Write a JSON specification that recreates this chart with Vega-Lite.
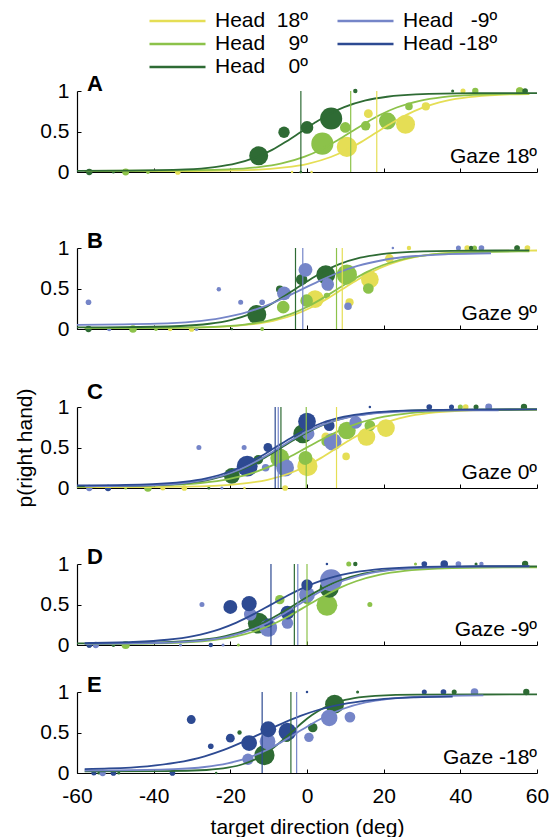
{
"$schema":"https://vega.github.io/schema/vega-lite/v6.json",
"padding":{"left":14,"top":10,"right":4,"bottom":0},
"background":"white",
"config":{"font":"Liberation Sans","view":{"stroke":null},
"title":{"fontSize":22,"fontWeight":"bold","color":"#000","anchor":"start","frame":"group","baseline":"alphabetic","offset":0,"dx":10,"dy":20},
"axis":{"grid":false,"domain":true,"ticks":true,"domainColor":"#000","tickColor":"#000","labelColor":"#000","titleColor":"#000","labelFontSize":21,"titleFontSize":21,"titleFontWeight":"normal","tickSize":-4,"labelFlush":false,"domainWidth":1,"tickWidth":1},
"axisX":{"labelPadding":16,"titlePadding":10},
"axisY":{"labelPadding":12,"titlePadding":4,"domain":true,"domainColor":"#000","domainWidth":1.2,"domainOpacity":1,"zindex":1}},
"datasets":{
"panels":[{"panel":"A","gaze":"Gaze 18º"},{"panel":"B","gaze":"Gaze 9º"},{"panel":"C","gaze":"Gaze 0º"},{"panel":"D","gaze":"Gaze -9º"},{"panel":"E","gaze":"Gaze -18º"}],
"thr":[{"panel":"A","head":18,"x":18.2},{"panel":"A","head":9,"x":11.4},{"panel":"A","head":0,"x":-1.6},
{"panel":"B","head":18,"x":9.2},{"panel":"B","head":9,"x":7.7},{"panel":"B","head":0,"x":-3.0},{"panel":"B","head":-9,"x":-1.1},
{"panel":"C","head":18,"x":7.7},{"panel":"C","head":9,"x":-0.2},{"panel":"C","head":0,"x":-6.8},{"panel":"C","head":-9,"x":-7.5},{"panel":"C","head":-18,"x":-8.3},
{"panel":"D","head":9,"x":0},{"panel":"D","head":0,"x":-3.3},{"panel":"D","head":-9,"x":-2.4},{"panel":"D","head":-18,"x":-9.4},
{"panel":"E","head":0,"x":-4.2},{"panel":"E","head":-9,"x":-2.7},{"panel":"E","head":-18,"x":-11.7}],
"pts":[
{"panel":"A","head":18,"x":-33.7,"p":0,"n":20},{"panel":"A","head":18,"x":-3.9,"p":0,"n":4},{"panel":"A","head":18,"x":1.2,"p":0,"n":4},{"panel":"A","head":18,"x":10.4,"p":0.31,"n":256},{"panel":"A","head":18,"x":16,"p":0.72,"n":49},{"panel":"A","head":18,"x":25.7,"p":0.59,"n":225},{"panel":"A","head":18,"x":31,"p":0.81,"n":42},{"panel":"A","head":18,"x":40.7,"p":1,"n":16},{"panel":"A","head":18,"x":55.5,"p":1,"n":36},
{"panel":"A","head":9,"x":-47.3,"p":0,"n":30},{"panel":"A","head":9,"x":-41.5,"p":0,"n":9},{"panel":"A","head":9,"x":-1.6,"p":0,"n":4},{"panel":"A","head":9,"x":4,"p":0.35,"n":306},{"panel":"A","head":9,"x":10,"p":0.55,"n":72},{"panel":"A","head":9,"x":15.3,"p":0.57,"n":56},{"panel":"A","head":9,"x":21,"p":0.63,"n":182},{"panel":"A","head":9,"x":26.6,"p":0.81,"n":36},{"panel":"A","head":9,"x":43.9,"p":1,"n":25},{"panel":"A","head":9,"x":55.5,"p":1,"n":36},
{"panel":"A","head":0,"x":-56.8,"p":0,"n":25},{"panel":"A","head":0,"x":-50.5,"p":0,"n":6},{"panel":"A","head":0,"x":-12.6,"p":0.2,"n":225},{"panel":"A","head":0,"x":-6,"p":0.49,"n":81},{"panel":"A","head":0,"x":-1.6,"p":0,"n":4},{"panel":"A","head":0,"x":0,"p":0.55,"n":100},{"panel":"A","head":0,"x":6.3,"p":0.66,"n":306},{"panel":"A","head":0,"x":12.6,"p":1,"n":12},{"panel":"A","head":0,"x":38,"p":1,"n":6},{"panel":"A","head":0,"x":56.9,"p":1,"n":20},
{"panel":"B","head":18,"x":-35.7,"p":0,"n":12},{"panel":"B","head":18,"x":-30.1,"p":0,"n":20},{"panel":"B","head":18,"x":2.1,"p":0.37,"n":196},{"panel":"B","head":18,"x":5.8,"p":0.5,"n":16},{"panel":"B","head":18,"x":11.1,"p":0.33,"n":42},{"panel":"B","head":18,"x":16.4,"p":0.61,"n":196},{"panel":"B","head":18,"x":21.5,"p":0.87,"n":49},{"panel":"B","head":18,"x":26.6,"p":1,"n":12},{"panel":"B","head":18,"x":41.8,"p":1,"n":20},{"panel":"B","head":18,"x":57.5,"p":1,"n":20},
{"panel":"B","head":9,"x":-45.4,"p":0,"n":36},{"panel":"B","head":9,"x":-39.4,"p":0,"n":9},{"panel":"B","head":9,"x":-11.7,"p":0,"n":9},{"panel":"B","head":9,"x":-6.2,"p":0.27,"n":100},{"panel":"B","head":9,"x":-0.1,"p":0.35,"n":100},{"panel":"B","head":9,"x":5.2,"p":0.41,"n":25},{"panel":"B","head":9,"x":10.4,"p":0.67,"n":256},{"panel":"B","head":9,"x":16,"p":0.5,"n":72},{"panel":"B","head":9,"x":43.7,"p":1,"n":16},{"panel":"B","head":9,"x":54.8,"p":1,"n":16},
{"panel":"B","head":0,"x":-57,"p":0,"n":25},{"panel":"B","head":0,"x":-19.6,"p":0,"n":4},{"panel":"B","head":0,"x":-13.1,"p":0.18,"n":225},{"panel":"B","head":0,"x":-7.1,"p":0.49,"n":36},{"panel":"B","head":0,"x":-1.4,"p":0.61,"n":81},{"panel":"B","head":0,"x":4.9,"p":0.67,"n":225},{"panel":"B","head":0,"x":42.8,"p":1,"n":12},{"panel":"B","head":0,"x":54.8,"p":1,"n":20},
{"panel":"B","head":-9,"x":-57,"p":0.33,"n":20},{"panel":"B","head":-9,"x":-51.6,"p":0,"n":12},{"panel":"B","head":-9,"x":-28.8,"p":0,"n":9},{"panel":"B","head":-9,"x":-23,"p":0.49,"n":12},{"panel":"B","head":-9,"x":-17.3,"p":0.33,"n":16},{"panel":"B","head":-9,"x":-11.7,"p":0.33,"n":20},{"panel":"B","head":-9,"x":-6,"p":0.44,"n":121},{"panel":"B","head":-9,"x":-0.4,"p":0.73,"n":121},{"panel":"B","head":-9,"x":5.4,"p":0.55,"n":100},{"panel":"B","head":-9,"x":10.7,"p":0.28,"n":36},{"panel":"B","head":-9,"x":22.4,"p":1,"n":4},{"panel":"B","head":-9,"x":39.5,"p":1,"n":16},{"panel":"B","head":-9,"x":45.5,"p":1,"n":20},
{"panel":"C","head":18,"x":-37.6,"p":0,"n":16},{"panel":"C","head":18,"x":-32,"p":0,"n":20},{"panel":"C","head":18,"x":-16.3,"p":0,"n":4},{"panel":"C","head":18,"x":-5.7,"p":0,"n":20},{"panel":"C","head":18,"x":0.1,"p":0.27,"n":256},{"panel":"C","head":18,"x":4.9,"p":0.63,"n":49},{"panel":"C","head":18,"x":10.2,"p":0.39,"n":36},{"panel":"C","head":18,"x":15.5,"p":0.63,"n":196},{"panel":"C","head":18,"x":20.6,"p":0.74,"n":196},{"panel":"C","head":18,"x":41.4,"p":1,"n":20},
{"panel":"C","head":9,"x":-47.3,"p":0,"n":6},{"panel":"C","head":9,"x":-41.5,"p":0,"n":36},{"panel":"C","head":9,"x":-7.1,"p":0.37,"n":225},{"panel":"C","head":9,"x":-0.4,"p":0.37,"n":121},{"panel":"C","head":9,"x":4.9,"p":0.57,"n":49},{"panel":"C","head":9,"x":10.4,"p":0.71,"n":196},{"panel":"C","head":9,"x":16.4,"p":0.77,"n":72},{"panel":"C","head":9,"x":40,"p":1,"n":16},{"panel":"C","head":9,"x":56.6,"p":1,"n":16},
{"panel":"C","head":0,"x":-56.8,"p":0,"n":16},{"panel":"C","head":0,"x":-25.6,"p":0,"n":6},{"panel":"C","head":0,"x":-19.6,"p":0.15,"n":156},{"panel":"C","head":0,"x":-12.7,"p":0.35,"n":56},{"panel":"C","head":0,"x":-1.1,"p":0.67,"n":225},{"panel":"C","head":0,"x":44.1,"p":1,"n":16},{"panel":"C","head":0,"x":56.6,"p":1,"n":25},
{"panel":"C","head":-9,"x":-56.8,"p":0,"n":25},{"panel":"C","head":-9,"x":-28.2,"p":0.5,"n":16},{"panel":"C","head":-9,"x":-22.2,"p":0,"n":6},{"panel":"C","head":-9,"x":-16.4,"p":0.5,"n":16},{"panel":"C","head":-9,"x":-10.8,"p":0.25,"n":36},{"panel":"C","head":-9,"x":-5.7,"p":0.25,"n":196},{"panel":"C","head":-9,"x":0.3,"p":0.67,"n":100},{"panel":"C","head":-9,"x":6.7,"p":0.57,"n":196},{"panel":"C","head":-9,"x":12.7,"p":0.81,"n":100},{"panel":"C","head":-9,"x":47.4,"p":1,"n":30},
{"panel":"C","head":-18,"x":-51.9,"p":0,"n":25},{"panel":"C","head":-18,"x":-15.6,"p":0.27,"n":272},{"panel":"C","head":-18,"x":-10.2,"p":0.5,"n":49},{"panel":"C","head":-18,"x":0,"p":0.82,"n":196},{"panel":"C","head":-18,"x":5.8,"p":0.77,"n":72},{"panel":"C","head":-18,"x":16.4,"p":1,"n":4},{"panel":"C","head":-18,"x":31.9,"p":1,"n":20},{"panel":"C","head":-18,"x":37.7,"p":1,"n":16},
{"panel":"D","head":9,"x":-47.3,"p":0,"n":42},{"panel":"D","head":9,"x":-17.9,"p":0,"n":6},{"panel":"D","head":9,"x":-7.1,"p":0.56,"n":56},{"panel":"D","head":9,"x":0,"p":0.56,"n":56},{"panel":"D","head":9,"x":5.2,"p":0.49,"n":272},{"panel":"D","head":9,"x":10.9,"p":1,"n":16},{"panel":"D","head":9,"x":16.4,"p":0.5,"n":16},{"panel":"D","head":9,"x":28.3,"p":1,"n":6},{"panel":"D","head":9,"x":56.9,"p":1,"n":16},
{"panel":"D","head":0,"x":-56.8,"p":0,"n":16},{"panel":"D","head":0,"x":-50.5,"p":0,"n":9},{"panel":"D","head":0,"x":-12.7,"p":0.27,"n":272},{"panel":"D","head":0,"x":-0.2,"p":0.6,"n":100},{"panel":"D","head":0,"x":5.8,"p":0.7,"n":225},{"panel":"D","head":0,"x":12.6,"p":1,"n":12},{"panel":"D","head":0,"x":44.1,"p":1,"n":6},{"panel":"D","head":0,"x":56.9,"p":1,"n":25},
{"panel":"D","head":-9,"x":-55.1,"p":0,"n":25},{"panel":"D","head":-9,"x":-33,"p":0,"n":6},{"panel":"D","head":-9,"x":-27.4,"p":0.5,"n":16},{"panel":"D","head":-9,"x":-21.9,"p":0,"n":6},{"panel":"D","head":-9,"x":-14.8,"p":0.38,"n":100},{"panel":"D","head":-9,"x":-10.1,"p":0.21,"n":196},{"panel":"D","head":-9,"x":-5.1,"p":0.27,"n":81},{"panel":"D","head":-9,"x":0,"p":0.62,"n":156},{"panel":"D","head":-9,"x":6.3,"p":0.8,"n":306},{"panel":"D","head":-9,"x":39.5,"p":1,"n":20},{"panel":"D","head":-9,"x":45.5,"p":1,"n":12},
{"panel":"D","head":-18,"x":-56.8,"p":0,"n":20},{"panel":"D","head":-18,"x":-25.1,"p":0,"n":12},{"panel":"D","head":-18,"x":-20,"p":0.47,"n":121},{"panel":"D","head":-18,"x":-15.1,"p":0.51,"n":144},{"panel":"D","head":-18,"x":-10.1,"p":0.27,"n":56},{"panel":"D","head":-18,"x":-5.1,"p":0.4,"n":121},{"panel":"D","head":-18,"x":0,"p":0.74,"n":81},{"panel":"D","head":-18,"x":5.2,"p":1,"n":4},{"panel":"D","head":-18,"x":30.6,"p":1,"n":20},{"panel":"D","head":-18,"x":35.8,"p":1,"n":36},
{"panel":"E","head":0,"x":-54.3,"p":0,"n":6},{"panel":"E","head":0,"x":-49.1,"p":0,"n":6},{"panel":"E","head":0,"x":-23.7,"p":0,"n":4},{"panel":"E","head":0,"x":-17.6,"p":0.5,"n":12},{"panel":"E","head":0,"x":-11.1,"p":0.22,"n":256},{"panel":"E","head":0,"x":-5.3,"p":0.44,"n":56},{"panel":"E","head":0,"x":1.5,"p":0.56,"n":56},{"panel":"E","head":0,"x":7.2,"p":0.85,"n":225},{"panel":"E","head":0,"x":13.2,"p":1,"n":6},{"panel":"E","head":0,"x":38.4,"p":1,"n":16},{"panel":"E","head":0,"x":57.2,"p":1,"n":25},
{"panel":"E","head":-9,"x":-53.3,"p":0,"n":25},{"panel":"E","head":-9,"x":-15.4,"p":0.17,"n":81},{"panel":"E","head":-9,"x":-10.3,"p":0.39,"n":156},{"panel":"E","head":-9,"x":0.5,"p":0.44,"n":56},{"panel":"E","head":-9,"x":5.8,"p":0.68,"n":169},{"panel":"E","head":-9,"x":11.2,"p":0.69,"n":72},{"panel":"E","head":-9,"x":43.7,"p":1,"n":36},
{"panel":"E","head":-18,"x":-55.6,"p":0,"n":16},{"panel":"E","head":-18,"x":-50.5,"p":0,"n":20},{"panel":"E","head":-18,"x":-35.1,"p":0,"n":20},{"panel":"E","head":-18,"x":-30.2,"p":0.66,"n":49},{"panel":"E","head":-18,"x":-25.1,"p":0.33,"n":20},{"panel":"E","head":-18,"x":-20,"p":0.43,"n":49},{"panel":"E","head":-18,"x":-15.1,"p":0.37,"n":156},{"panel":"E","head":-18,"x":-10.1,"p":0.54,"n":156},{"panel":"E","head":-18,"x":-5.1,"p":0.51,"n":196},{"panel":"E","head":-18,"x":0,"p":1,"n":4},{"panel":"E","head":-18,"x":30.6,"p":1,"n":16},{"panel":"E","head":-18,"x":35.6,"p":1,"n":20}
],
"curves":[
{"panel":"A","head":18,"x":-58,"p":0.010},{"panel":"A","head":18,"x":-29.8,"p":0.012},{"panel":"A","head":18,"x":-13.8,"p":0.027},{"panel":"A","head":18,"x":-5.8,"p":0.056},{"panel":"A","head":18,"x":0.2,"p":0.101},{"panel":"A","head":18,"x":6.2,"p":0.185},{"panel":"A","head":18,"x":10.2,"p":0.268},{"panel":"A","head":18,"x":14.2,"p":0.372},{"panel":"A","head":18,"x":18.2,"p":0.49},{"panel":"A","head":18,"x":22.2,"p":0.608},{"panel":"A","head":18,"x":26.2,"p":0.712},{"panel":"A","head":18,"x":30.2,"p":0.795},{"panel":"A","head":18,"x":36.2,"p":0.878},{"panel":"A","head":18,"x":42.2,"p":0.924},{"panel":"A","head":18,"x":50.2,"p":0.953},{"panel":"A","head":18,"x":58,"p":0.963},
{"panel":"A","head":9,"x":-58,"p":0.015},{"panel":"A","head":9,"x":-36.6,"p":0.017},{"panel":"A","head":9,"x":-20.6,"p":0.032},{"panel":"A","head":9,"x":-12.6,"p":0.060},{"panel":"A","head":9,"x":-6.6,"p":0.106},{"panel":"A","head":9,"x":-0.6,"p":0.189},{"panel":"A","head":9,"x":3.4,"p":0.272},{"panel":"A","head":9,"x":7.4,"p":0.376},{"panel":"A","head":9,"x":11.4,"p":0.493},{"panel":"A","head":9,"x":15.4,"p":0.609},{"panel":"A","head":9,"x":19.4,"p":0.713},{"panel":"A","head":9,"x":23.4,"p":0.796},{"panel":"A","head":9,"x":29.4,"p":0.879},{"panel":"A","head":9,"x":35.4,"p":0.925},{"panel":"A","head":9,"x":43.4,"p":0.953},{"panel":"A","head":9,"x":58,"p":0.967},
{"panel":"A","head":0,"x":-60,"p":0.015},{"panel":"A","head":0,"x":-46.6,"p":0.017},{"panel":"A","head":0,"x":-31.6,"p":0.032},{"panel":"A","head":0,"x":-24.1,"p":0.061},{"panel":"A","head":0,"x":-18.5,"p":0.106},{"panel":"A","head":0,"x":-12.9,"p":0.190},{"panel":"A","head":0,"x":-9.1,"p":0.273},{"panel":"A","head":0,"x":-5.4,"p":0.377},{"panel":"A","head":0,"x":-1.6,"p":0.495},{"panel":"A","head":0,"x":2.2,"p":0.613},{"panel":"A","head":0,"x":5.9,"p":0.717},{"panel":"A","head":0,"x":9.7,"p":0.800},{"panel":"A","head":0,"x":15.3,"p":0.883},{"panel":"A","head":0,"x":20.9,"p":0.929},{"panel":"A","head":0,"x":28.4,"p":0.958},{"panel":"A","head":0,"x":43.4,"p":0.973},{"panel":"A","head":0,"x":60,"p":0.975},
{"panel":"B","head":18,"x":-58,"p":0.010},{"panel":"B","head":18,"x":-38.8,"p":0.012},{"panel":"B","head":18,"x":-22.8,"p":0.027},{"panel":"B","head":18,"x":-14.8,"p":0.056},{"panel":"B","head":18,"x":-8.8,"p":0.101},{"panel":"B","head":18,"x":-2.8,"p":0.185},{"panel":"B","head":18,"x":1.2,"p":0.268},{"panel":"B","head":18,"x":5.2,"p":0.372},{"panel":"B","head":18,"x":9.2,"p":0.49},{"panel":"B","head":18,"x":13.2,"p":0.608},{"panel":"B","head":18,"x":17.2,"p":0.712},{"panel":"B","head":18,"x":21.2,"p":0.795},{"panel":"B","head":18,"x":27.2,"p":0.878},{"panel":"B","head":18,"x":33.2,"p":0.924},{"panel":"B","head":18,"x":41.2,"p":0.953},{"panel":"B","head":18,"x":57.2,"p":0.968},{"panel":"B","head":18,"x":60,"p":0.969},
{"panel":"B","head":9,"x":-58,"p":0.010},{"panel":"B","head":9,"x":-40.3,"p":0.012},{"panel":"B","head":9,"x":-24.3,"p":0.027},{"panel":"B","head":9,"x":-16.3,"p":0.055},{"panel":"B","head":9,"x":-10.3,"p":0.100},{"panel":"B","head":9,"x":-4.3,"p":0.183},{"panel":"B","head":9,"x":-0.3,"p":0.265},{"panel":"B","head":9,"x":3.7,"p":0.369},{"panel":"B","head":9,"x":7.7,"p":0.485},{"panel":"B","head":9,"x":11.7,"p":0.601},{"panel":"B","head":9,"x":15.7,"p":0.705},{"panel":"B","head":9,"x":19.7,"p":0.787},{"panel":"B","head":9,"x":25.7,"p":0.869},{"panel":"B","head":9,"x":31.7,"p":0.915},{"panel":"B","head":9,"x":39.7,"p":0.943},{"panel":"B","head":9,"x":55.7,"p":0.958},{"panel":"B","head":9,"x":58,"p":0.959},
{"panel":"B","head":0,"x":-60,"p":0.020},{"panel":"B","head":0,"x":-48,"p":0.022},{"panel":"B","head":0,"x":-33,"p":0.037},{"panel":"B","head":0,"x":-25.5,"p":0.065},{"panel":"B","head":0,"x":-19.9,"p":0.111},{"panel":"B","head":0,"x":-14.3,"p":0.193},{"panel":"B","head":0,"x":-10.5,"p":0.276},{"panel":"B","head":0,"x":-6.8,"p":0.379},{"panel":"B","head":0,"x":-3,"p":0.495},{"panel":"B","head":0,"x":0.8,"p":0.611},{"panel":"B","head":0,"x":4.5,"p":0.715},{"panel":"B","head":0,"x":8.3,"p":0.797},{"panel":"B","head":0,"x":13.9,"p":0.880},{"panel":"B","head":0,"x":19.5,"p":0.925},{"panel":"B","head":0,"x":27,"p":0.953},{"panel":"B","head":0,"x":42,"p":0.968},{"panel":"B","head":0,"x":58,"p":0.970},
{"panel":"B","head":-9,"x":-60,"p":0.052},{"panel":"B","head":-9,"x":-39.1,"p":0.066},{"panel":"B","head":-9,"x":-29.6,"p":0.092},{"panel":"B","head":-9,"x":-22.5,"p":0.135},{"panel":"B","head":-9,"x":-15.4,"p":0.212},{"panel":"B","head":-9,"x":-10.6,"p":0.289},{"panel":"B","head":-9,"x":-5.9,"p":0.386},{"panel":"B","head":-9,"x":-1.1,"p":0.495},{"panel":"B","head":-9,"x":3.7,"p":0.604},{"panel":"B","head":-9,"x":8.4,"p":0.701},{"panel":"B","head":-9,"x":13.2,"p":0.778},{"panel":"B","head":-9,"x":20.3,"p":0.855},{"panel":"B","head":-9,"x":27.4,"p":0.898},{"panel":"B","head":-9,"x":36.9,"p":0.924},{"panel":"B","head":-9,"x":48,"p":0.935},
{"panel":"C","head":18,"x":-60,"p":0.010},{"panel":"C","head":18,"x":-40.3,"p":0.012},{"panel":"C","head":18,"x":-24.3,"p":0.027},{"panel":"C","head":18,"x":-16.3,"p":0.056},{"panel":"C","head":18,"x":-10.3,"p":0.101},{"panel":"C","head":18,"x":-4.3,"p":0.185},{"panel":"C","head":18,"x":-0.3,"p":0.268},{"panel":"C","head":18,"x":3.7,"p":0.372},{"panel":"C","head":18,"x":7.7,"p":0.49},{"panel":"C","head":18,"x":11.7,"p":0.608},{"panel":"C","head":18,"x":15.7,"p":0.712},{"panel":"C","head":18,"x":19.7,"p":0.795},{"panel":"C","head":18,"x":25.7,"p":0.878},{"panel":"C","head":18,"x":31.7,"p":0.924},{"panel":"C","head":18,"x":39.7,"p":0.953},{"panel":"C","head":18,"x":55.7,"p":0.968},{"panel":"C","head":18,"x":60,"p":0.969},
{"panel":"C","head":9,"x":-60,"p":0.020},{"panel":"C","head":9,"x":-54.2,"p":0.022},{"panel":"C","head":9,"x":-36.2,"p":0.037},{"panel":"C","head":9,"x":-27.2,"p":0.065},{"panel":"C","head":9,"x":-20.5,"p":0.111},{"panel":"C","head":9,"x":-13.7,"p":0.193},{"panel":"C","head":9,"x":-9.2,"p":0.276},{"panel":"C","head":9,"x":-4.7,"p":0.379},{"panel":"C","head":9,"x":-0.2,"p":0.495},{"panel":"C","head":9,"x":4.3,"p":0.611},{"panel":"C","head":9,"x":8.8,"p":0.715},{"panel":"C","head":9,"x":13.3,"p":0.797},{"panel":"C","head":9,"x":20.1,"p":0.880},{"panel":"C","head":9,"x":26.8,"p":0.925},{"panel":"C","head":9,"x":35.8,"p":0.953},{"panel":"C","head":9,"x":53.8,"p":0.968},{"panel":"C","head":9,"x":60,"p":0.969},
{"panel":"C","head":0,"x":-60,"p":0.020},{"panel":"C","head":0,"x":-54.8,"p":0.022},{"panel":"C","head":0,"x":-38.8,"p":0.037},{"panel":"C","head":0,"x":-30.8,"p":0.065},{"panel":"C","head":0,"x":-24.8,"p":0.111},{"panel":"C","head":0,"x":-18.8,"p":0.193},{"panel":"C","head":0,"x":-14.8,"p":0.276},{"panel":"C","head":0,"x":-10.8,"p":0.379},{"panel":"C","head":0,"x":-6.8,"p":0.495},{"panel":"C","head":0,"x":-2.8,"p":0.611},{"panel":"C","head":0,"x":1.2,"p":0.715},{"panel":"C","head":0,"x":5.2,"p":0.797},{"panel":"C","head":0,"x":11.2,"p":0.880},{"panel":"C","head":0,"x":17.2,"p":0.925},{"panel":"C","head":0,"x":25.2,"p":0.953},{"panel":"C","head":0,"x":41.2,"p":0.968},{"panel":"C","head":0,"x":60,"p":0.970},
{"panel":"C","head":-9,"x":-58,"p":0.022},{"panel":"C","head":-9,"x":-39.5,"p":0.037},{"panel":"C","head":-9,"x":-31.5,"p":0.065},{"panel":"C","head":-9,"x":-25.5,"p":0.110},{"panel":"C","head":-9,"x":-19.5,"p":0.191},{"panel":"C","head":-9,"x":-15.5,"p":0.273},{"panel":"C","head":-9,"x":-11.5,"p":0.375},{"panel":"C","head":-9,"x":-7.5,"p":0.49},{"panel":"C","head":-9,"x":-3.5,"p":0.605},{"panel":"C","head":-9,"x":0.5,"p":0.707},{"panel":"C","head":-9,"x":4.5,"p":0.789},{"panel":"C","head":-9,"x":10.5,"p":0.870},{"panel":"C","head":-9,"x":16.5,"p":0.915},{"panel":"C","head":-9,"x":24.5,"p":0.943},{"panel":"C","head":-9,"x":40.5,"p":0.958},{"panel":"C","head":-9,"x":50,"p":0.959},
{"panel":"C","head":-18,"x":-60,"p":0.031},{"panel":"C","head":-18,"x":-56.3,"p":0.032},{"panel":"C","head":-18,"x":-40.3,"p":0.047},{"panel":"C","head":-18,"x":-32.3,"p":0.075},{"panel":"C","head":-18,"x":-26.3,"p":0.120},{"panel":"C","head":-18,"x":-20.3,"p":0.201},{"panel":"C","head":-18,"x":-16.3,"p":0.283},{"panel":"C","head":-18,"x":-12.3,"p":0.385},{"panel":"C","head":-18,"x":-8.3,"p":0.50},{"panel":"C","head":-18,"x":-4.3,"p":0.615},{"panel":"C","head":-18,"x":-0.3,"p":0.717},{"panel":"C","head":-18,"x":3.7,"p":0.799},{"panel":"C","head":-18,"x":9.7,"p":0.880},{"panel":"C","head":-18,"x":15.7,"p":0.925},{"panel":"C","head":-18,"x":23.7,"p":0.953},{"panel":"C","head":-18,"x":39.7,"p":0.968},{"panel":"C","head":-18,"x":60,"p":0.970},
{"panel":"D","head":9,"x":-58,"p":0.010},{"panel":"D","head":9,"x":-51,"p":0.012},{"panel":"D","head":9,"x":-34,"p":0.027},{"panel":"D","head":9,"x":-25.5,"p":0.055},{"panel":"D","head":9,"x":-19.1,"p":0.100},{"panel":"D","head":9,"x":-12.8,"p":0.183},{"panel":"D","head":9,"x":-8.5,"p":0.265},{"panel":"D","head":9,"x":-4.3,"p":0.369},{"panel":"D","head":9,"x":0,"p":0.485},{"panel":"D","head":9,"x":4.3,"p":0.601},{"panel":"D","head":9,"x":8.5,"p":0.705},{"panel":"D","head":9,"x":12.8,"p":0.787},{"panel":"D","head":9,"x":19.1,"p":0.869},{"panel":"D","head":9,"x":25.5,"p":0.915},{"panel":"D","head":9,"x":34,"p":0.943},{"panel":"D","head":9,"x":51,"p":0.958},{"panel":"D","head":9,"x":60,"p":0.959},
{"panel":"D","head":0,"x":-60,"p":0.020},{"panel":"D","head":0,"x":-51.3,"p":0.022},{"panel":"D","head":0,"x":-35.3,"p":0.037},{"panel":"D","head":0,"x":-27.3,"p":0.065},{"panel":"D","head":0,"x":-21.3,"p":0.111},{"panel":"D","head":0,"x":-15.3,"p":0.193},{"panel":"D","head":0,"x":-11.3,"p":0.276},{"panel":"D","head":0,"x":-7.3,"p":0.379},{"panel":"D","head":0,"x":-3.3,"p":0.495},{"panel":"D","head":0,"x":0.7,"p":0.611},{"panel":"D","head":0,"x":4.7,"p":0.715},{"panel":"D","head":0,"x":8.7,"p":0.797},{"panel":"D","head":0,"x":14.7,"p":0.880},{"panel":"D","head":0,"x":20.7,"p":0.925},{"panel":"D","head":0,"x":28.7,"p":0.953},{"panel":"D","head":0,"x":44.7,"p":0.968},{"panel":"D","head":0,"x":60,"p":0.970},
{"panel":"D","head":-9,"x":-58,"p":0.015},{"panel":"D","head":-9,"x":-50.4,"p":0.017},{"panel":"D","head":-9,"x":-34.4,"p":0.032},{"panel":"D","head":-9,"x":-26.4,"p":0.060},{"panel":"D","head":-9,"x":-20.4,"p":0.106},{"panel":"D","head":-9,"x":-14.4,"p":0.189},{"panel":"D","head":-9,"x":-10.4,"p":0.272},{"panel":"D","head":-9,"x":-6.4,"p":0.376},{"panel":"D","head":-9,"x":-2.4,"p":0.493},{"panel":"D","head":-9,"x":1.6,"p":0.609},{"panel":"D","head":-9,"x":5.6,"p":0.713},{"panel":"D","head":-9,"x":9.6,"p":0.796},{"panel":"D","head":-9,"x":15.6,"p":0.879},{"panel":"D","head":-9,"x":21.6,"p":0.925},{"panel":"D","head":-9,"x":29.6,"p":0.953},{"panel":"D","head":-9,"x":45.6,"p":0.968},{"panel":"D","head":-9,"x":58,"p":0.969},
{"panel":"D","head":-18,"x":-58,"p":0.024},{"panel":"D","head":-18,"x":-45.4,"p":0.037},{"panel":"D","head":-18,"x":-36.4,"p":0.065},{"panel":"D","head":-18,"x":-29.7,"p":0.111},{"panel":"D","head":-18,"x":-22.9,"p":0.194},{"panel":"D","head":-18,"x":-18.4,"p":0.277},{"panel":"D","head":-18,"x":-13.9,"p":0.381},{"panel":"D","head":-18,"x":-9.4,"p":0.498},{"panel":"D","head":-18,"x":-4.9,"p":0.614},{"panel":"D","head":-18,"x":-0.4,"p":0.718},{"panel":"D","head":-18,"x":4.1,"p":0.801},{"panel":"D","head":-18,"x":10.9,"p":0.884},{"panel":"D","head":-18,"x":17.6,"p":0.930},{"panel":"D","head":-18,"x":26.6,"p":0.958},{"panel":"D","head":-18,"x":44.6,"p":0.973},{"panel":"D","head":-18,"x":58,"p":0.975},
{"panel":"E","head":0,"x":-58,"p":0.020},{"panel":"E","head":0,"x":-37.2,"p":0.022},{"panel":"E","head":0,"x":-26.2,"p":0.037},{"panel":"E","head":0,"x":-20.7,"p":0.065},{"panel":"E","head":0,"x":-16.6,"p":0.111},{"panel":"E","head":0,"x":-12.5,"p":0.193},{"panel":"E","head":0,"x":-9.7,"p":0.276},{"panel":"E","head":0,"x":-7,"p":0.379},{"panel":"E","head":0,"x":-4.2,"p":0.495},{"panel":"E","head":0,"x":-1.5,"p":0.611},{"panel":"E","head":0,"x":1.3,"p":0.715},{"panel":"E","head":0,"x":4.1,"p":0.797},{"panel":"E","head":0,"x":8.2,"p":0.880},{"panel":"E","head":0,"x":12.3,"p":0.925},{"panel":"E","head":0,"x":17.8,"p":0.953},{"panel":"E","head":0,"x":28.8,"p":0.968},{"panel":"E","head":0,"x":60,"p":0.970},
{"panel":"E","head":-9,"x":-58,"p":0.031},{"panel":"E","head":-9,"x":-50.7,"p":0.032},{"panel":"E","head":-9,"x":-34.7,"p":0.047},{"panel":"E","head":-9,"x":-26.7,"p":0.074},{"panel":"E","head":-9,"x":-20.7,"p":0.119},{"panel":"E","head":-9,"x":-14.7,"p":0.200},{"panel":"E","head":-9,"x":-10.7,"p":0.280},{"panel":"E","head":-9,"x":-6.7,"p":0.381},{"panel":"E","head":-9,"x":-2.7,"p":0.495},{"panel":"E","head":-9,"x":1.3,"p":0.609},{"panel":"E","head":-9,"x":5.3,"p":0.710},{"panel":"E","head":-9,"x":9.3,"p":0.790},{"panel":"E","head":-9,"x":15.3,"p":0.871},{"panel":"E","head":-9,"x":21.3,"p":0.916},{"panel":"E","head":-9,"x":29.3,"p":0.943},{"panel":"E","head":-9,"x":46,"p":0.958},
{"panel":"E","head":-18,"x":-58,"p":0.049},{"panel":"E","head":-18,"x":-51.7,"p":0.056},{"panel":"E","head":-18,"x":-41.7,"p":0.083},{"panel":"E","head":-18,"x":-34.2,"p":0.127},{"panel":"E","head":-18,"x":-26.7,"p":0.206},{"panel":"E","head":-18,"x":-21.7,"p":0.285},{"panel":"E","head":-18,"x":-16.7,"p":0.384},{"panel":"E","head":-18,"x":-11.7,"p":0.495},{"panel":"E","head":-18,"x":-6.7,"p":0.607},{"panel":"E","head":-18,"x":-1.7,"p":0.705},{"panel":"E","head":-18,"x":3.3,"p":0.784},{"panel":"E","head":-18,"x":10.8,"p":0.863},{"panel":"E","head":-18,"x":18.3,"p":0.907},{"panel":"E","head":-18,"x":28.3,"p":0.934},{"panel":"E","head":-18,"x":38,"p":0.944}
]},
"spacing":19,
"vconcat":[
{"width":460,"height":81,"title":"A",
"encoding":{"x":{"field":"x","type":"quantitative","scale":{"domain":[-60,60],"nice":false},"axis":{"values":[-60,-40,-20,0,20,40,60],"labels":false,"title":null,"minExtent":39}},
"color":{"field":"head","type":"nominal","scale":{"domain":[18,9,0,-9,-18],"range":["#E5DE55","#8CC24A","#2E6B34","#7585C8","#2D4A92"]},"legend":{"orient":"none","legendX":71,"legendY":-81,"direction":"vertical","columns":2,"columnPadding":24,"rowPadding":2,"symbolType":"stroke","symbolSize":3136,"symbolStrokeWidth":2.5,"labelFontSize":21,"labelOffset":8,"title":null,"labelExpr":"datum.value == 18 ? 'Head\u00a0\u00a018º' : datum.value == 9 ? 'Head\u00a0\u00a0\u00a0\u00a09º' : datum.value == 0 ? 'Head\u00a0\u00a0\u00a0\u00a00º' : datum.value == -9 ? 'Head\u00a0\u00a0\u00a0-9º' : 'Head -18º'","encode":{"symbols":{"update":{"y":{"value":11},"stroke":{"scale":"color","field":"value"}}},"labels":{"update":{"y":{"value":11}}}}}}},
"layer":[
{"data":{"name":"pts"},"transform":[{"filter":"datum.panel==='A'"}],"mark":{"type":"circle","opacity":1},"encoding":{"y":{"field":"p","type":"quantitative","scale":{"domain":[0,1],"nice":false},"axis":{"values":[0,0.5,1],"labelExpr":"''+datum.value","title":null,"domain":true}},"size":{"field":"n","type":"quantitative","scale":{"domain":[0,300],"range":[0,480]},"legend":null}}},
{"data":{"name":"curves"},"transform":[{"filter":"datum.panel==='A'"}],"mark":{"type":"line","interpolate":"monotone","strokeWidth":1.8},"encoding":{"y":{"field":"p","type":"quantitative","scale":{"domain":[0,1],"nice":false},"axis":{"values":[0,0.5,1],"labelExpr":"''+datum.value","title":null,"domain":true}}}},
{"data":{"name":"thr"},"transform":[{"filter":"datum.panel==='A'"}],"mark":{"type":"rule","strokeWidth":1.2},"encoding":{}},
{"data":{"name":"panels"},"transform":[{"filter":"datum.panel==='A'"}],"mark":{"type":"text","align":"right","baseline":"alphabetic","fontSize":21,"fontWeight":"normal","dy":-9},"encoding":{"x":{"value":"width"},"y":{"value":"height"},"text":{"field":"gaze"},"color":{"value":"black"}}}
]},
{"width":460,"height":81,"title":"B",
"encoding":{"x":{"field":"x","type":"quantitative","scale":{"domain":[-60,60],"nice":false},"axis":{"values":[-60,-40,-20,0,20,40,60],"labels":false,"title":null,"minExtent":32}},
"color":{"field":"head","type":"nominal","scale":{"domain":[18,9,0,-9,-18],"range":["#E5DE55","#8CC24A","#2E6B34","#7585C8","#2D4A92"]},"legend":{"orient":"none","legendX":71,"legendY":-81,"direction":"vertical","columns":2,"columnPadding":24,"rowPadding":2,"symbolType":"stroke","symbolSize":3136,"symbolStrokeWidth":2.5,"labelFontSize":21,"labelOffset":8,"title":null,"labelExpr":"datum.value == 18 ? 'Head\u00a0\u00a018º' : datum.value == 9 ? 'Head\u00a0\u00a0\u00a0\u00a09º' : datum.value == 0 ? 'Head\u00a0\u00a0\u00a0\u00a00º' : datum.value == -9 ? 'Head\u00a0\u00a0\u00a0-9º' : 'Head -18º'","encode":{"symbols":{"update":{"y":{"value":11},"stroke":{"scale":"color","field":"value"}}},"labels":{"update":{"y":{"value":11}}}}}}},
"layer":[
{"data":{"name":"pts"},"transform":[{"filter":"datum.panel==='B'"}],"mark":{"type":"circle","opacity":1},"encoding":{"y":{"field":"p","type":"quantitative","scale":{"domain":[0,1],"nice":false},"axis":{"values":[0,0.5,1],"labelExpr":"''+datum.value","title":null,"domain":true}},"size":{"field":"n","type":"quantitative","scale":{"domain":[0,300],"range":[0,480]},"legend":null}}},
{"data":{"name":"curves"},"transform":[{"filter":"datum.panel==='B'"}],"mark":{"type":"line","interpolate":"monotone","strokeWidth":1.8},"encoding":{"y":{"field":"p","type":"quantitative","scale":{"domain":[0,1],"nice":false},"axis":{"values":[0,0.5,1],"labelExpr":"''+datum.value","title":null,"domain":true}}}},
{"data":{"name":"thr"},"transform":[{"filter":"datum.panel==='B'"}],"mark":{"type":"rule","strokeWidth":1.2},"encoding":{}},
{"data":{"name":"panels"},"transform":[{"filter":"datum.panel==='B'"}],"mark":{"type":"text","align":"right","baseline":"alphabetic","fontSize":21,"fontWeight":"normal","dy":-9},"encoding":{"x":{"value":"width"},"y":{"value":"height"},"text":{"field":"gaze"},"color":{"value":"black"}}}
]},
{"width":460,"height":81,"title":"C",
"encoding":{"x":{"field":"x","type":"quantitative","scale":{"domain":[-60,60],"nice":false},"axis":{"values":[-60,-40,-20,0,20,40,60],"labels":false,"title":null,"minExtent":39}},
"color":{"field":"head","type":"nominal","scale":{"domain":[18,9,0,-9,-18],"range":["#E5DE55","#8CC24A","#2E6B34","#7585C8","#2D4A92"]},"legend":{"orient":"none","legendX":71,"legendY":-81,"direction":"vertical","columns":2,"columnPadding":24,"rowPadding":2,"symbolType":"stroke","symbolSize":3136,"symbolStrokeWidth":2.5,"labelFontSize":21,"labelOffset":8,"title":null,"labelExpr":"datum.value == 18 ? 'Head\u00a0\u00a018º' : datum.value == 9 ? 'Head\u00a0\u00a0\u00a0\u00a09º' : datum.value == 0 ? 'Head\u00a0\u00a0\u00a0\u00a00º' : datum.value == -9 ? 'Head\u00a0\u00a0\u00a0-9º' : 'Head -18º'","encode":{"symbols":{"update":{"y":{"value":11},"stroke":{"scale":"color","field":"value"}}},"labels":{"update":{"y":{"value":11}}}}}}},
"layer":[
{"data":{"name":"pts"},"transform":[{"filter":"datum.panel==='C'"}],"mark":{"type":"circle","opacity":1},"encoding":{"y":{"field":"p","type":"quantitative","scale":{"domain":[0,1],"nice":false},"axis":{"values":[0,0.5,1],"labelExpr":"''+datum.value","title":"p(right hand)","domain":true}},"size":{"field":"n","type":"quantitative","scale":{"domain":[0,300],"range":[0,480]},"legend":null}}},
{"data":{"name":"curves"},"transform":[{"filter":"datum.panel==='C'"}],"mark":{"type":"line","interpolate":"monotone","strokeWidth":1.8},"encoding":{"y":{"field":"p","type":"quantitative","scale":{"domain":[0,1],"nice":false},"axis":{"values":[0,0.5,1],"labelExpr":"''+datum.value","title":"p(right hand)","domain":true}}}},
{"data":{"name":"thr"},"transform":[{"filter":"datum.panel==='C'"}],"mark":{"type":"rule","strokeWidth":1.2},"encoding":{}},
{"data":{"name":"panels"},"transform":[{"filter":"datum.panel==='C'"}],"mark":{"type":"text","align":"right","baseline":"alphabetic","fontSize":21,"fontWeight":"normal","dy":-9},"encoding":{"x":{"value":"width"},"y":{"value":"height"},"text":{"field":"gaze"},"color":{"value":"black"}}}
]},
{"width":460,"height":81,"title":"D",
"encoding":{"x":{"field":"x","type":"quantitative","scale":{"domain":[-60,60],"nice":false},"axis":{"values":[-60,-40,-20,0,20,40,60],"labels":false,"title":null,"minExtent":0}},
"color":{"field":"head","type":"nominal","scale":{"domain":[18,9,0,-9,-18],"range":["#E5DE55","#8CC24A","#2E6B34","#7585C8","#2D4A92"]},"legend":{"orient":"none","legendX":71,"legendY":-81,"direction":"vertical","columns":2,"columnPadding":24,"rowPadding":2,"symbolType":"stroke","symbolSize":3136,"symbolStrokeWidth":2.5,"labelFontSize":21,"labelOffset":8,"title":null,"labelExpr":"datum.value == 18 ? 'Head\u00a0\u00a018º' : datum.value == 9 ? 'Head\u00a0\u00a0\u00a0\u00a09º' : datum.value == 0 ? 'Head\u00a0\u00a0\u00a0\u00a00º' : datum.value == -9 ? 'Head\u00a0\u00a0\u00a0-9º' : 'Head -18º'","encode":{"symbols":{"update":{"y":{"value":11},"stroke":{"scale":"color","field":"value"}}},"labels":{"update":{"y":{"value":11}}}}}}},
"layer":[
{"data":{"name":"pts"},"transform":[{"filter":"datum.panel==='D'"}],"mark":{"type":"circle","opacity":1},"encoding":{"y":{"field":"p","type":"quantitative","scale":{"domain":[0,1],"nice":false},"axis":{"values":[0,0.5,1],"labelExpr":"''+datum.value","title":null,"domain":true}},"size":{"field":"n","type":"quantitative","scale":{"domain":[0,300],"range":[0,480]},"legend":null}}},
{"data":{"name":"curves"},"transform":[{"filter":"datum.panel==='D'"}],"mark":{"type":"line","interpolate":"monotone","strokeWidth":1.8},"encoding":{"y":{"field":"p","type":"quantitative","scale":{"domain":[0,1],"nice":false},"axis":{"values":[0,0.5,1],"labelExpr":"''+datum.value","title":null,"domain":true}}}},
{"data":{"name":"thr"},"transform":[{"filter":"datum.panel==='D'"}],"mark":{"type":"rule","strokeWidth":1.2},"encoding":{}},
{"data":{"name":"panels"},"transform":[{"filter":"datum.panel==='D'"}],"mark":{"type":"text","align":"right","baseline":"alphabetic","fontSize":21,"fontWeight":"normal","dy":-9},"encoding":{"x":{"value":"width"},"y":{"value":"height"},"text":{"field":"gaze"},"color":{"value":"black"}}}
]},
{"width":460,"height":81,"title":"E",
"encoding":{"x":{"field":"x","type":"quantitative","scale":{"domain":[-60,60],"nice":false},"axis":{"values":[-60,-40,-20,0,20,40,60],"labelExpr":"''+datum.value","title":"target direction (deg)"}},
"color":{"field":"head","type":"nominal","scale":{"domain":[18,9,0,-9,-18],"range":["#E5DE55","#8CC24A","#2E6B34","#7585C8","#2D4A92"]},"legend":{"orient":"none","legendX":71,"legendY":-81,"direction":"vertical","columns":2,"columnPadding":24,"rowPadding":2,"symbolType":"stroke","symbolSize":3136,"symbolStrokeWidth":2.5,"labelFontSize":21,"labelOffset":8,"title":null,"labelExpr":"datum.value == 18 ? 'Head\u00a0\u00a018º' : datum.value == 9 ? 'Head\u00a0\u00a0\u00a0\u00a09º' : datum.value == 0 ? 'Head\u00a0\u00a0\u00a0\u00a00º' : datum.value == -9 ? 'Head\u00a0\u00a0\u00a0-9º' : 'Head -18º'","encode":{"symbols":{"update":{"y":{"value":11},"stroke":{"scale":"color","field":"value"}}},"labels":{"update":{"y":{"value":11}}}}}}},
"layer":[
{"data":{"name":"pts"},"transform":[{"filter":"datum.panel==='E'"}],"mark":{"type":"circle","opacity":1},"encoding":{"y":{"field":"p","type":"quantitative","scale":{"domain":[0,1],"nice":false},"axis":{"values":[0,0.5,1],"labelExpr":"''+datum.value","title":null,"domain":true}},"size":{"field":"n","type":"quantitative","scale":{"domain":[0,300],"range":[0,480]},"legend":null}}},
{"data":{"name":"curves"},"transform":[{"filter":"datum.panel==='E'"}],"mark":{"type":"line","interpolate":"monotone","strokeWidth":1.8},"encoding":{"y":{"field":"p","type":"quantitative","scale":{"domain":[0,1],"nice":false},"axis":{"values":[0,0.5,1],"labelExpr":"''+datum.value","title":null,"domain":true}}}},
{"data":{"name":"thr"},"transform":[{"filter":"datum.panel==='E'"}],"mark":{"type":"rule","strokeWidth":1.2},"encoding":{}},
{"data":{"name":"panels"},"transform":[{"filter":"datum.panel==='E'"}],"mark":{"type":"text","align":"right","baseline":"alphabetic","fontSize":21,"fontWeight":"normal","dy":-9},"encoding":{"x":{"value":"width"},"y":{"value":"height"},"text":{"field":"gaze"},"color":{"value":"black"}}}
]}
]}
